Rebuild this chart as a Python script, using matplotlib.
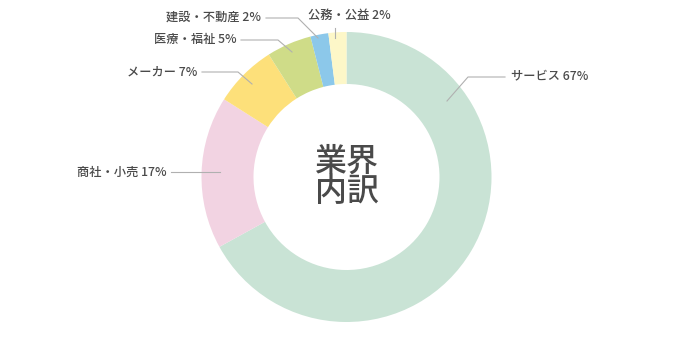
import matplotlib
matplotlib.use("Agg")
import matplotlib.pyplot as plt

plt.rcParams['font.family'] = ['Noto Sans CJK JP', 'DejaVu Sans']

labels = ["サービス", "商社・小売", "メーカー", "医療・福祉", "建設・不動産", "公務・公益"]
shares = [67, 17, 7, 5, 2, 2]
colors = ["#c9e3d5", "#f2d3e2", "#fde07a", "#cfdc88", "#8cc8ea", "#fdf7c8"]

W, H = 692, 353
cx, cy, R, ring = 346.5, H - 177, 145, 52

# leader lines in image pixels: (text x, text y, ha, path points)
layout = [
    (511, 76, "left", [(447, 101), (468, 77), (505, 77)]),
    (167, 172, "right", [(220, 172), (171, 172)]),
    (197, 72, "right", [(252, 84), (238, 72), (202, 72)]),
    (237, 40, "right", [(292, 52), (278, 40), (241, 40)]),
    (261, 17, "right", [(318, 38), (298, 18), (266, 18)]),
    (349, 15, "center", [(335, 38), (335, 28)]),
]

fig = plt.figure(figsize=(W / 100, H / 100), dpi=100)
ax = fig.add_axes([0, 0, 1, 1])

ax.pie(shares, colors=colors, startangle=90, counterclock=False,
       center=(cx, cy), radius=R,
       wedgeprops=dict(width=ring, linewidth=0))
ax.set_xlim(0, W)
ax.set_ylim(0, H)
ax.set_aspect("equal")
ax.axis("off")

for name, pct, (tx, ty, ha, pts) in zip(labels, shares, layout):
    xs = [p[0] for p in pts]
    ys = [H - p[1] for p in pts]
    ax.plot(xs, ys, color="#b0b0b0", lw=0.8)
    ax.text(tx, H - ty, f"{name} {pct}%", ha=ha, va="center",
            fontsize=8.8, color="#4a4a4a", fontweight="medium")

ax.text(cx, cy, "業界\n内訳", ha="center", va="center", fontsize=23,
        color="#4a4a4a", fontweight="medium", linespacing=0.95)

fig.savefig("out.png", dpi=100)
